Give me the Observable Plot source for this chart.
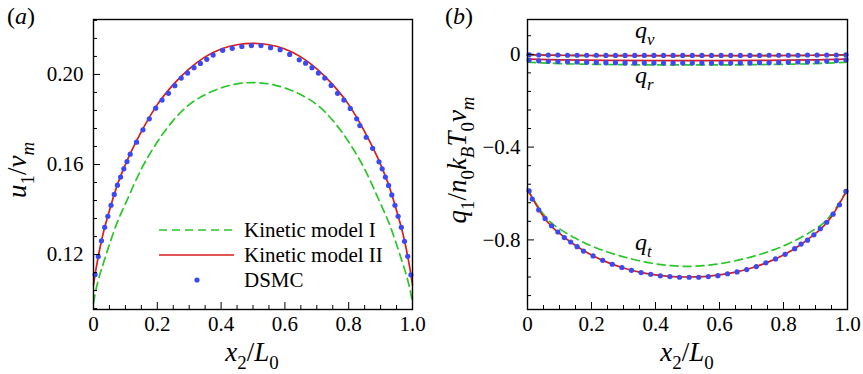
<!DOCTYPE html>
<html><head><meta charset="utf-8">
<script src="https://cdn.jsdelivr.net/npm/d3@7"></script>
<script src="https://cdn.jsdelivr.net/npm/@observablehq/plot@0.6"></script>
<style>
body{margin:0;background:#fff;}
#wrap{position:relative;width:863px;height:374px;font-family:"Liberation Serif",serif;}
#wrap > div{position:absolute;top:0;}
svg{overflow:visible;}
#wrap svg text{font-family:"Liberation Serif",serif;}
</style></head><body>
<div id="wrap"><div id="pa" style="left:0"></div><div id="pb" style="left:430px"></div></div>
<script>
// ---------- tick definitions ----------
const xMajor = [0, 0.2, 0.4, 0.6, 0.8, 1.0];
const xMinor = [0.05,0.1,0.15,0.25,0.3,0.35,0.45,0.5,0.55,0.65,0.7,0.75,0.85,0.9,0.95];
const yMajorA = [0.12, 0.16, 0.20];
const yMinorA = [0.096,0.104,0.112,0.128,0.136,0.144,0.152,0.168,0.176,0.184,0.192,0.208,0.216,0.224];
const yMajorB = [0, -0.4, -0.8];
const yMinorB = [0.08,-0.08,-0.16,-0.24,-0.32,-0.48,-0.56,-0.64,-0.72,-0.88,-0.96,-1.04];

// ---------- panel (a): u1/vm ----------
const modelIax = [0,0.005,0.01,0.02,0.03,0.05,0.075,0.1,0.15,0.2,0.25,0.3,0.35,0.4,0.45,0.5,0.55,0.6,0.65,0.7,0.75,0.8,0.85,0.9,0.925,0.95,0.97,0.98,0.99,0.995,1];
const modelIay = [0.0985,0.1025,0.1058,0.1112,0.1157,0.1245,0.1345,0.1425,0.1580,0.1700,0.1796,0.1866,0.1910,0.1940,0.1958,0.1964,0.1958,0.1940,0.1910,0.1866,0.1796,0.1700,0.1580,0.1425,0.1345,0.1245,0.1157,0.1112,0.1058,0.1025,0.0985];
const modelIIax = [0,0.005,0.01,0.02,0.03,0.05,0.075,0.1,0.15,0.2,0.25,0.3,0.35,0.4,0.45,0.5,0.55,0.6,0.65,0.7,0.75,0.8,0.85,0.9,0.925,0.95,0.97,0.98,0.99,0.995,1];
const modelIIay = [0.1065,0.1112,0.1153,0.1228,0.1292,0.1396,0.1510,0.1600,0.1746,0.1866,0.1955,0.2025,0.2078,0.2113,0.2132,0.2138,0.2132,0.2113,0.2078,0.2025,0.1955,0.1866,0.1746,0.1600,0.1510,0.1396,0.1292,0.1228,0.1153,0.1112,0.1065];
const dsmcAx = [0.005,0.015,0.025,0.035,0.045,0.055,0.065,0.075,0.085,0.095,0.105,0.115,0.135,0.155,0.175,0.195,0.215,0.235,0.255,0.275,0.295,0.315,0.335,0.355,0.375,0.405,0.435,0.465,0.495,0.525,0.555,0.585,0.615,0.645,0.665,0.685,0.705,0.725,0.745,0.765,0.785,0.805,0.825,0.835,0.855,0.875,0.895,0.905,0.915,0.925,0.935,0.945,0.955,0.965,0.975,0.985,0.995];
const dsmcAy = [0.1111,0.1191,0.1261,0.1321,0.1370,0.1419,0.1467,0.1508,0.1544,0.1581,0.1613,0.1646,0.1699,0.1754,0.1803,0.1850,0.1886,0.1916,0.1950,0.1984,0.2006,0.2030,0.2049,0.2067,0.2086,0.2107,0.2116,0.2124,0.2128,0.2128,0.2119,0.2110,0.2089,0.2065,0.2050,0.2030,0.2006,0.1984,0.1951,0.1916,0.1886,0.1849,0.1803,0.1773,0.1721,0.1672,0.1612,0.1581,0.1544,0.1507,0.1465,0.1419,0.1370,0.1321,0.1259,0.1192,0.1110];

// ---------- panel (b): q1/n0kBT0vm ----------
const flatX = [0,0.1,0.25,0.5,0.75,0.9,1];
const qvModelI = [-0.003,-0.005,-0.006,-0.0065,-0.006,-0.005,-0.003];
const qvModelII = [-0.002,-0.004,-0.0055,-0.006,-0.0055,-0.004,-0.002];
const qrModelI = [-0.034,-0.040,-0.044,-0.046,-0.044,-0.040,-0.034];
const qrModelII = [-0.021,-0.024,-0.026,-0.027,-0.026,-0.024,-0.021];
const dsmcFlatX = [0.005,0.035,0.065,0.095,0.125,0.155,0.185,0.215,0.245,0.275,0.305,0.335,0.365,0.395,0.425,0.455,0.485,0.515,0.545,0.575,0.605,0.635,0.665,0.695,0.725,0.755,0.785,0.815,0.845,0.875,0.905,0.935,0.965,0.995];
const dsmcQv = [-0.002,-0.003,-0.003,-0.003,-0.004,-0.004,-0.004,-0.004,-0.005,-0.005,-0.005,-0.005,-0.005,-0.005,-0.005,-0.005,-0.005,-0.005,-0.005,-0.005,-0.005,-0.005,-0.005,-0.005,-0.005,-0.004,-0.004,-0.004,-0.004,-0.003,-0.003,-0.003,-0.003,-0.002];
const dsmcQr = [-0.025,-0.028,-0.030,-0.031,-0.032,-0.033,-0.034,-0.035,-0.036,-0.036,-0.037,-0.037,-0.038,-0.038,-0.038,-0.038,-0.038,-0.038,-0.038,-0.038,-0.038,-0.038,-0.037,-0.037,-0.036,-0.036,-0.035,-0.034,-0.033,-0.032,-0.031,-0.029,-0.027,-0.024];
const qtX = [0,0.01,0.02,0.05,0.08,0.1,0.15,0.2,0.25,0.3,0.35,0.4,0.45,0.5,0.55,0.6,0.65,0.7,0.75,0.8,0.85,0.9,0.92,0.95,0.98,0.99,1];
const qtModelI = [-0.582,-0.605,-0.628,-0.690,-0.733,-0.752,-0.793,-0.826,-0.852,-0.873,-0.890,-0.903,-0.911,-0.914,-0.911,-0.903,-0.890,-0.873,-0.852,-0.826,-0.793,-0.752,-0.733,-0.690,-0.628,-0.605,-0.586];
const qtModelII = [-0.582,-0.607,-0.632,-0.700,-0.748,-0.772,-0.824,-0.865,-0.897,-0.921,-0.939,-0.951,-0.958,-0.960,-0.958,-0.951,-0.939,-0.921,-0.897,-0.865,-0.824,-0.772,-0.748,-0.700,-0.632,-0.607,-0.588];
const dsmcQtX = [0.005,0.015,0.035,0.055,0.075,0.095,0.115,0.135,0.155,0.175,0.205,0.235,0.265,0.295,0.325,0.355,0.385,0.415,0.445,0.475,0.505,0.535,0.565,0.595,0.625,0.655,0.685,0.715,0.745,0.775,0.805,0.835,0.855,0.875,0.895,0.915,0.935,0.955,0.975,0.995];
const dsmcQt = [-0.589,-0.624,-0.671,-0.708,-0.739,-0.766,-0.790,-0.809,-0.829,-0.848,-0.869,-0.888,-0.905,-0.919,-0.931,-0.941,-0.948,-0.955,-0.958,-0.961,-0.961,-0.961,-0.958,-0.954,-0.946,-0.938,-0.928,-0.915,-0.899,-0.882,-0.862,-0.838,-0.818,-0.801,-0.778,-0.752,-0.724,-0.689,-0.649,-0.591];

const GREEN = "#2ac62a", RED = "#d91c1c", BLUE = "#3b48f4";
const zip = (xs, ys) => xs.map((x, i) => ({x, y: ys[i]}));
const FONT = "Liberation Serif, serif";

// inward ticks as short rules (length given as a fraction of the axis span)
function frameMarks(xDom, yDom, plotW, plotH, yMajor, yMinor) {
  const fx = L => xDom[0] + (xDom[1] - xDom[0]) * L / plotW;
  const fy = L => yDom[0] + (yDom[1] - yDom[0]) * L / plotH;
  return [
    Plot.ruleY(yMinor, {y: d => d, x1: () => xDom[0], x2: () => fx(4), stroke: "black", strokeWidth: 1}),
    Plot.ruleY(yMajor, {y: d => d, x1: () => xDom[0], x2: () => fx(7), stroke: "black", strokeWidth: 1}),
    Plot.ruleX(xMinor, {x: d => d, y1: () => yDom[0], y2: () => fy(4), stroke: "black", strokeWidth: 1}),
    Plot.ruleX(xMajor, {x: d => d, y1: () => yDom[0], y2: () => fy(7), stroke: "black", strokeWidth: 1}),
    Plot.frame({stroke: "black", strokeWidth: 1.4})
  ];
}
const xFmt = d => d === 0 ? "0" : d.toFixed(1);

// Panel a
const xDomA = [0, 1], yDomA = [0.0956, 0.2244];
const plotA = Plot.plot({
  width: 430, height: 374, marginLeft: 93, marginRight: 18, marginTop: 19, marginBottom: 65,
  style: {fontFamily: FONT, fontSize: "21px", background: "white", color: "black"},
  x: {domain: xDomA},
  y: {domain: yDomA},
  marks: [
    Plot.line(zip(modelIax, modelIay), {x: "x", y: "y", stroke: GREEN, strokeWidth: 1.7, strokeDasharray: "8,5", curve: "monotone-x"}),
    Plot.line(zip(modelIIax, modelIIay), {x: "x", y: "y", stroke: RED, strokeWidth: 1.7, curve: "monotone-x"}),
    Plot.dot(zip(dsmcAx, dsmcAy), {x: "x", y: "y", r: 2.6, fill: BLUE, stroke: "none"}),
    ...frameMarks(xDomA, yDomA, 319, 290, yMajorA, yMinorA),
    Plot.axisX({ticks: xMajor, tickSize: 0, tickPadding: 7, tickFormat: xFmt, label: null}),
    Plot.axisY({ticks: yMajorA, tickSize: 0, tickPadding: 10, tickFormat: d3.format(".2f"), label: null})
  ]
});
document.getElementById("pa").appendChild(plotA);

// Panel b
const xDomB = [0, 1], yDomB = [-1.1, 0.15];
const plotB = Plot.plot({
  width: 433, height: 374, marginLeft: 97, marginRight: 16, marginTop: 19, marginBottom: 65,
  style: {fontFamily: FONT, fontSize: "21px", background: "white", color: "black"},
  x: {domain: xDomB},
  y: {domain: yDomB},
  marks: [
    Plot.line(zip(flatX, qvModelI), {x: "x", y: "y", stroke: GREEN, strokeWidth: 1.7, strokeDasharray: "8,5"}),
    Plot.line(zip(flatX, qrModelI), {x: "x", y: "y", stroke: GREEN, strokeWidth: 1.7, strokeDasharray: "8,5", curve: "monotone-x"}),
    Plot.line(zip(qtX, qtModelI), {x: "x", y: "y", stroke: GREEN, strokeWidth: 1.7, strokeDasharray: "8,5", curve: "monotone-x"}),
    Plot.line(zip(flatX, qvModelII), {x: "x", y: "y", stroke: RED, strokeWidth: 1.7, curve: "monotone-x"}),
    Plot.line(zip(flatX, qrModelII), {x: "x", y: "y", stroke: RED, strokeWidth: 1.7, curve: "monotone-x"}),
    Plot.line(zip(qtX, qtModelII), {x: "x", y: "y", stroke: RED, strokeWidth: 1.7, curve: "monotone-x"}),
    Plot.dot(zip(dsmcFlatX, dsmcQv), {x: "x", y: "y", r: 2.6, fill: BLUE, stroke: "none"}),
    Plot.dot(zip(dsmcFlatX, dsmcQr), {x: "x", y: "y", r: 2.6, fill: BLUE, stroke: "none"}),
    Plot.dot(zip(dsmcQtX, dsmcQt), {x: "x", y: "y", r: 2.6, fill: BLUE, stroke: "none"}),
    ...frameMarks(xDomB, yDomB, 320, 290, yMajorB, yMinorB),
    Plot.axisX({ticks: xMajor, tickSize: 0, tickPadding: 7, tickFormat: xFmt, label: null}),
    Plot.axisY({ticks: yMajorB, tickSize: 0, tickPadding: 7, tickFormat: d => d === 0 ? "0" : "\u2212" + Math.abs(d).toFixed(1), label: null})
  ]
});
document.getElementById("pb").appendChild(plotB);

// ---------- rich text helper ----------
function rich(svg, parts, {x, y, size, anchor = "start", rotate = 0}) {
  const t = d3.select(svg).append("text")
    .attr("transform", `translate(${x},${y}) rotate(${rotate})`)
    .attr("text-anchor", anchor)
    .attr("font-family", FONT)
    .attr("font-size", size)
    .attr("fill", "black");
  let shift = 0;
  for (const p of parts) {
    const s = p.sub ? 0.3 * size : 0;
    t.append("tspan").text(p.t)
      .attr("dy", s - shift)
      .attr("font-style", p.i ? "italic" : "normal")
      .attr("font-size", p.sub ? size * 0.7 : size);
    shift = s;
  }
  return t;
}
const I = t => ({t, i: true}), N = t => ({t}), SI = t => ({t, i: true, sub: true}), SN = t => ({t, sub: true});

// panel labels
rich(plotA, [N("("), I("a"), N(")")], {x: 7, y: 24, size: 24});
rich(plotB, [N("("), I("b"), N(")")], {x: 15, y: 24, size: 24});
// axis titles
rich(plotA, [I("x"), SN("2"), N("/"), I("L"), SN("0")], {x: 252, y: 361, size: 27, anchor: "middle"});
rich(plotB, [I("x"), SN("2"), N("/"), I("L"), SN("0")], {x: 257, y: 361, size: 27, anchor: "middle"});
rich(plotA, [I("u"), SN("1"), N("/"), I("v"), SI("m")], {x: 26, y: 170, size: 27, anchor: "middle", rotate: -90});
rich(plotB, [I("q"), SN("1"), N("/"), I("n"), SN("0"), I("k"), SI("B"), I("T"), SN("0"), I("v"), SI("m")], {x: 36, y: 160, size: 27, anchor: "middle", rotate: -90});
// curve labels
rich(plotB, [I("q"), SI("v")], {x: 205, y: 38, size: 24});
rich(plotB, [I("q"), SI("r")], {x: 205, y: 83, size: 24});
rich(plotB, [I("q"), SI("t")], {x: 205, y: 250, size: 24});

// legend (panel a)
const lg = d3.select(plotA).append("g").attr("text-anchor", "start");
const legendItems = [
  {label: "Kinetic model I", kind: "dash"},
  {label: "Kinetic model II", kind: "line"},
  {label: "DSMC", kind: "dot"}
];
legendItems.forEach((d, i) => {
  const y = 230 + i * 25;
  if (d.kind === "dash") lg.append("line").attr("x1", 159).attr("x2", 233).attr("y1", y).attr("y2", y).attr("stroke", GREEN).attr("stroke-width", 1.7).attr("stroke-dasharray", "8,5");
  if (d.kind === "line") lg.append("line").attr("x1", 159).attr("x2", 234).attr("y1", y).attr("y2", y).attr("stroke", RED).attr("stroke-width", 1.7);
  if (d.kind === "dot") lg.append("circle").attr("cx", 197).attr("cy", y).attr("r", 2.6).attr("fill", BLUE);
  lg.append("text").attr("x", 244).attr("y", y + 7).attr("text-anchor", "start").attr("font-family", FONT).attr("font-size", 21).attr("fill", "black").text(d.label);
});
</script>
</body></html>
